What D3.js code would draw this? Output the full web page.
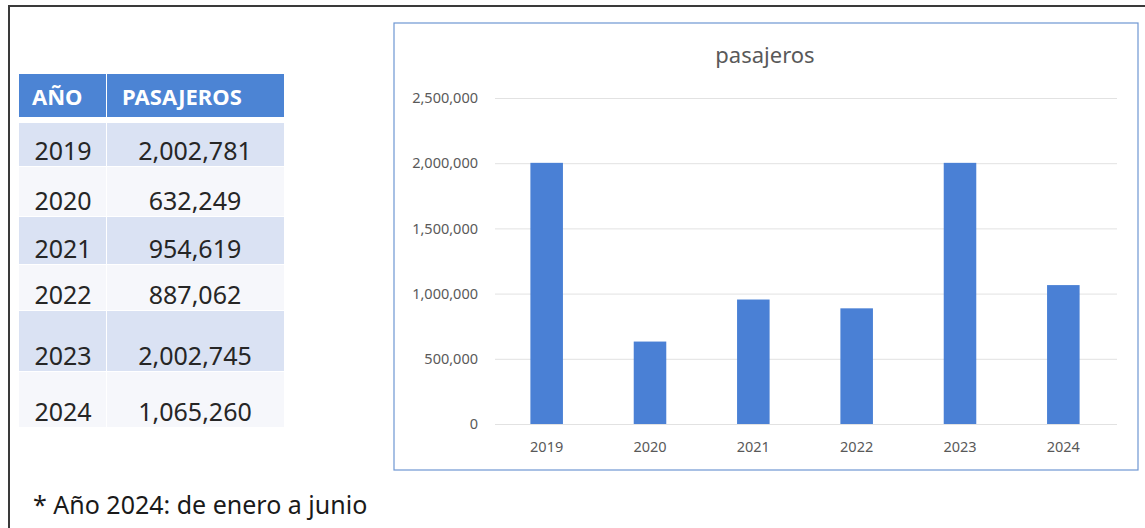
<!DOCTYPE html>
<html>
<head>
<meta charset="utf-8">
<script src="https://cdn.jsdelivr.net/npm/d3@7"></script>
<style>
  body { margin: 0; background: #fff; }
  text { font-family: "Noto Sans", "Open Sans", sans-serif; }
</style>
</head>
<body>
<div class="chart"></div>
<script>
// data
var years = ['2019', '2020', '2021', '2022', '2023', '2024'];
var pasajeros = [2002781, 632249, 954619, 887062, 2002745, 1065260];
var yTicks = [0, 500000, 1000000, 1500000, 2000000, 2500000];
var headers = ['AÑO', 'PASAJEROS'];
var chartTitle = 'pasajeros';
var footnote = '* Año 2024: de enero a junio';

var svgWidth = 1145;
var svgHeight = 528;

var svg = d3.select('.chart')
  .append('svg')
  .attr('width', svgWidth)
  .attr('height', svgHeight);

var fmt = d3.format(',');

// outer frame (top + left lines)
svg.append('path')
  .attr('d', 'M9,528 V6 H1145')
  .attr('fill', 'none')
  .attr('stroke', '#3a3a3a')
  .attr('stroke-width', 2);

// ---- table ----
var colX = [19, 107];
var colW = [87, 177];
var rowTop = [123, 167, 217, 265, 311, 372];
var rowBottom = [166, 216, 264, 310, 371, 427];
var rowFill = ['#dae2f3', '#f6f7fb', '#dae2f3', '#f6f7fb', '#dae2f3', '#f6f7fb'];
var table = svg.append('g');

headers.forEach(function(h, i) {
  table.append('rect')
    .attr('x', colX[i]).attr('y', 74)
    .attr('width', colW[i]).attr('height', 43)
    .attr('fill', '#4c84d4');
  table.append('text')
    .attr('x', i === 0 ? 32 : 122)
    .attr('y', 105)
    .attr('fill', '#ffffff')
    .style('font-size', '22px')
    .style('font-weight', 'bold')
    .text(h);
});

years.forEach(function(y, i) {
  var rows = table.append('g');
  rows.append('rect')
    .attr('x', colX[0]).attr('y', rowTop[i])
    .attr('width', colW[0]).attr('height', rowBottom[i] - rowTop[i])
    .attr('fill', rowFill[i]);
  rows.append('rect')
    .attr('x', colX[1]).attr('y', rowTop[i])
    .attr('width', colW[1]).attr('height', rowBottom[i] - rowTop[i])
    .attr('fill', rowFill[i]);
  rows.append('text')
    .attr('x', 63)
    .attr('y', rowBottom[i] - 6)
    .attr('text-anchor', 'middle')
    .attr('fill', '#262626')
    .style('font-size', '25px')
    .text(y);
  rows.append('text')
    .attr('x', 195)
    .attr('y', rowBottom[i] - 6)
    .attr('text-anchor', 'middle')
    .attr('fill', '#262626')
    .style('font-size', '25px')
    .text(fmt(pasajeros[i]));
});

svg.append('text')
  .attr('x', 33)
  .attr('y', 514)
  .attr('fill', '#1a1a1a')
  .style('font-size', '25px')
  .text(footnote);

// ---- chart ----
svg.append('rect')
  .attr('x', 394).attr('y', 23)
  .attr('width', 744).attr('height', 447)
  .attr('fill', '#fff')
  .attr('stroke', '#6e97d2')
  .attr('stroke-width', 1.2);

svg.append('text')
  .attr('x', 765)
  .attr('y', 63)
  .attr('text-anchor', 'middle')
  .attr('fill', '#595959')
  .style('font-size', '22px')
  .text(chartTitle);

var xScale = d3.scaleBand()
  .domain(years)
  .range([495, 1115])
  .paddingInner(0.685)
  .paddingOuter(0.3425);

var yScale = d3.scaleLinear()
  .domain([0, 2500000])
  .range([424, 98]);

// gridlines
svg.append('g')
  .attr('transform', 'translate(495,0)')
  .call(d3.axisLeft(yScale).tickValues(yTicks).tickSize(-622).tickFormat(''))
  .call(function(g) {
    g.select('.domain').remove();
    g.selectAll('line').attr('stroke', '#e2e2e2').attr('stroke-width', 1);
  });

// y labels
svg.append('g')
  .attr('transform', 'translate(486,0)')
  .call(d3.axisLeft(yScale).tickValues(yTicks).tickSize(0).tickPadding(8).tickFormat(fmt))
  .call(function(g) {
    g.select('.domain').remove();
    g.selectAll('text')
      .attr('fill', '#595959')
      .style('font-size', '14.5px')
      .style('font-family', '"Noto Sans", sans-serif');
  });

// bars
svg.append('g')
  .selectAll('rect')
  .data(pasajeros)
  .enter()
  .append('rect')
  .attr('x', function(d, i) { return xScale(years[i]); })
  .attr('y', function(d) { return yScale(d); })
  .attr('width', xScale.bandwidth())
  .attr('height', function(d) { return yScale(0) - yScale(d); })
  .attr('fill', '#4a80d5');

// x labels
svg.append('g')
  .attr('transform', 'translate(0,424)')
  .call(d3.axisBottom(xScale).tickSize(0).tickPadding(18))
  .call(function(g) {
    g.select('.domain').remove();
    g.selectAll('text')
      .attr('fill', '#595959')
      .style('font-size', '14.5px')
      .style('font-family', '"Noto Sans", sans-serif');
  });
</script>
</body>
</html>
